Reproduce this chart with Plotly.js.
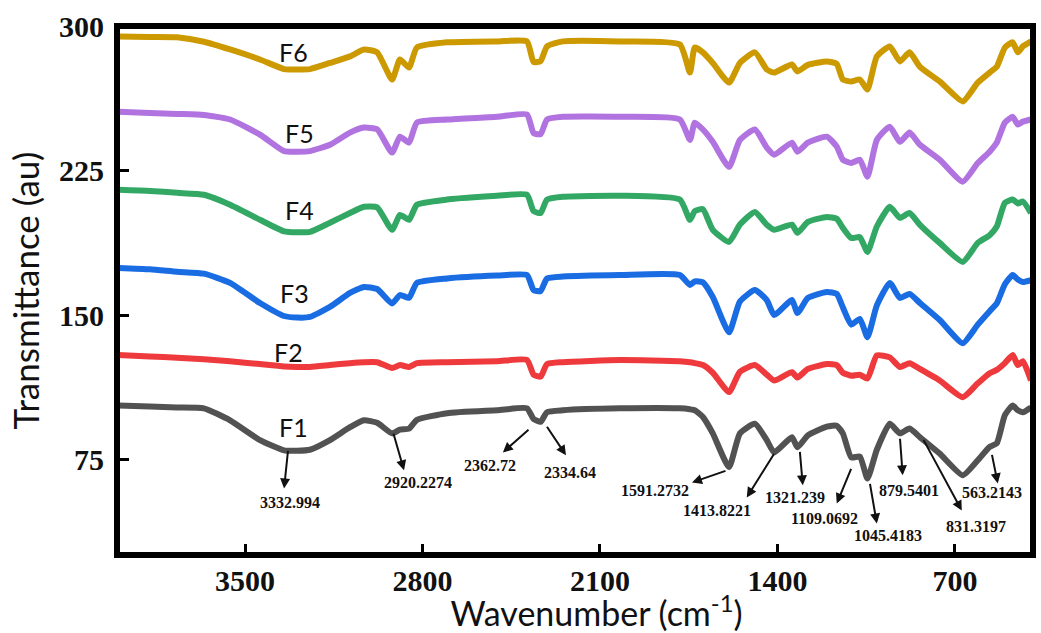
<!DOCTYPE html>
<html>
<head>
<meta charset="utf-8">
<script src="https://cdn.plot.ly/plotly-3.0.1.min.js"></script>
<style>html,body{margin:0;padding:0;background:#fff;}#chart{width:1041px;height:633px;}</style>
</head>
<body>
<div id="chart"></div>
<script>
// ---- Data ----
const wavenumber = [4000,3875,3768,3662,3559,3441,3346,3295,3244,3165,3086,3031,2979,2920,2889,2853,2822,2703,2506,2388,2362,2334,2309,2246,2021,1785,1745,1726,1694,1655,1591,1548,1489,1442,1413,1343,1321,1280,1205,1166,1142,1109,1075,1045,1008,957,917,879,838,760,669,610,563,535,503,472,452,432,400];

const F1 = [103,102.5,102,101.5,95.3,85,79.7,79.5,80,85, 91.7,95.3,94,88.5,90.5,91,95.5,99,100.5,101.5, 96,94.5,99.5,100.5,101.5,101.5,101,100.5,97,88.5, 71,88.5,93.5,85,78.6,86.5,81.3,87.5,92,92.5, 88.5,76,76.5,65,80,93.5,88.5,91,86.5,78, 66.7,74.5,81.5,83.3,98,103,100.5,99.5,102];
const F2 = [129.2,128.5,127.8,127,126,124.5,123.3,123,123,124, 125,125.5,125.5,122.5,124,123,125,125.5,126,126.6, 119,118,124.5,125.5,126.6,126,125.5,125,124,120, 110,120.5,124,119,116,120.3,117.5,122,124.5,124, 120,118.5,119,117,129,128,123,125,122,116, 107.3,114.5,119.8,121.5,125,129.2,124,126,116];
const F3 = [174.5,173.8,172.5,171.5,166.7,156.25,149.5,148.7,149,154.2, 161.5,164.6,163.5,156,160.4,159,166.7,169,170.5,170.8, 163,162.5,169,170,170.8,170.8,165.6,167.5,167,159.4, 141,157,163,157.8,150,157.8,151,158.9,162,161, 154,145,148,138.5,155,166.7,158.9,161,156.25,147.4, 135.4,145,152,156,166,170.8,168.5,167.2,168.2];
const F4 = [215.1,214.5,213.5,212.5,207.3,199.5,193.5,193,193.2,198, 203,206.25,206,194.3,202,199.5,207.3,210,212,212.5, 204,203,210,211.5,212,210,199.5,204,205,194.3, 188,197,203.6,196.9,194.3,197,192.7,198.4,201,200, 195.3,190,190.5,182.8,196,206.25,200.5,203,196.9,187.5, 177.6,187.5,191.5,196,208.3,210,208,209,203];
const F5 = [255.7,255,254.5,254,251.6,243.75,235.2,234.9,235.2,238.5, 244.8,247.4,246.5,234.4,242.7,239.6,250,251.6,253,254.2, 244.5,244,251.6,253,253,251.6,241,250,246.4,240, 227,241,246.4,237,233.3,239.6,234.9,239.6,242.7,237.5, 230.7,229,230.7,221.9,241,247.9,240,244.8,238.5,230.7, 219.3,229,234.9,239.6,250,253,249,250.5,251.6];
const F6 = [294.8,294.5,294.3,292,288,282.8,277.8,277.6,277.8,281, 284.4,288,286.5,272.4,282.8,278.6,289,291.7,292.2,292.2, 281.5,282,289.6,292.2,292.2,290.6,276,289,286.5,281, 270.8,281,286.5,277.6,276,280.2,276.6,280,281.8,280.5, 272.4,271.4,272.4,267.2,284.4,289.6,281.8,286.5,279,271.4, 261,270.8,276,279,289,291.7,286.5,289.6,292.2];

const seriesNames = ['F1','F2','F3','F4','F5','F6'];
const seriesValues = [F1, F2, F3, F4, F5, F6];

const xTickVals = [3500, 2800, 2100, 1400, 700];
const yTickVals = [75, 150, 225, 300];

const peakLabels = ['3332.994','2920.2274','2362.72','2334.64','1591.2732','1413.8221','1321.239','1109.0692','1045.4183','879.5401','831.3197','563.2143'];

// ---- Styling / layout ----
const colors = ['#525252','#ee3a3c','#1a6ce2','#33a864','#b073e0','#cc9900'];

const traces = seriesNames.map((n, i) => ({
  x: wavenumber, y: seriesValues[i], name: n, type: 'scatter', mode: 'lines',
  line: {color: colors[i], width: 6, shape: 'spline', smoothing: 0.5},
  hoverinfo: 'x+y+name'
}));

// label positions (wavenumber, value)
const seriesLabelPos = [[3307,91.7],[3327,130.7],[3303,161.5],[3287,204.7],[3287,244.8],[3307,286.5]];
const peakTextPos = [[3323,52.6],[2818,63],[2534,71.9],[2219,68.2],[1883,58.9],[1639,48.4],[1331,55.2],[1213,44.3],[965,35.4],[882,58.9],[618,40.1],[555,57.8]];
// arrow [tailX, tailY, headX, headY]
const arrowPos = [[3330,80.2,3346,59.9],[2916,89.1,2873,69.3],[2376,91.1,2483,78.6],[2313,92.7,2234,77.1],[1599,69.3,1737,63],[1410,78.6,1521,55.2],[1312,79.7,1300,61.5],[1107,70.8,1166,52.1],[1036,63,1008,41.7],[917,86.5,906,66.7],[827,85.9,673,48.4],[555,78.1,531,62.5]];

const annotations = [];
seriesNames.forEach((n, i) => annotations.push({
  x: seriesLabelPos[i][0], y: seriesLabelPos[i][1], xref: 'x', yref: 'y', text: n, showarrow: false,
  font: {family: 'Lato, Carlito, sans-serif', size: 25, color: '#111'}
}));
peakLabels.forEach((t, i) => {
  annotations.push({
    x: peakTextPos[i][0], y: peakTextPos[i][1], xref: 'x', yref: 'y', text: t, showarrow: false,
    font: {family: 'Liberation Serif, Times New Roman, serif', size: 16, color: '#111', weight: 'bold'}
  });
  const a = arrowPos[i];
  annotations.push({
    x: a[2], y: a[3], ax: a[0], ay: a[1], xref: 'x', yref: 'y', axref: 'x', ayref: 'y',
    text: '', showarrow: true, arrowhead: 2, arrowsize: 1, arrowwidth: 2, arrowcolor: '#111', standoff: 0, startstandoff: 0
  });
});

const tickFont = {family: 'Liberation Serif, Times New Roman, serif', size: 30, color: '#111', weight: 'bold'};

const layout = {
  width: 1041, height: 633,
  margin: {l: 117, r: 8, t: 26, b: 78, pad: 0},
  paper_bgcolor: '#fff', plot_bgcolor: '#fff',
  showlegend: false,
  xaxis: {
    range: [4005, 392], tickvals: xTickVals, ticktext: xTickVals.map(String),
    ticks: 'inside', ticklen: 11, tickwidth: 3, tickcolor: '#000',
    showgrid: false, zeroline: false, showline: false,
    tickfont: tickFont, ticklabelstandoff: 5,
    title: {text: '&nbsp;&nbsp;&nbsp;&nbsp;&nbsp;Wavenumber (cm<sup>-1</sup>)', font: {family: 'Lato, Carlito, sans-serif', size: 34, color: '#111'}, standoff: 5}
  },
  yaxis: {
    range: [25.3, 300.2], tickvals: yTickVals, ticktext: yTickVals.map(String),
    ticks: 'inside', ticklen: 12, tickwidth: 3, tickcolor: '#000',
    showgrid: false, zeroline: false, showline: false,
    tickfont: tickFont, ticklabelstandoff: 12,
    title: {text: 'Transmittance (au)', font: {family: 'Lato, Carlito, sans-serif', size: 35, color: '#111'}, standoff: 8}
  },
  shapes: [{type: 'rect', xref: 'paper', yref: 'paper', x0: 0, x1: 1, y0: 0, y1: 1, line: {color: '#000', width: 6}, layer: 'above'}],
  annotations: annotations
};

Plotly.newPlot('chart', traces, layout, {displayModeBar: false, staticPlot: true});
</script>
</body>
</html>
